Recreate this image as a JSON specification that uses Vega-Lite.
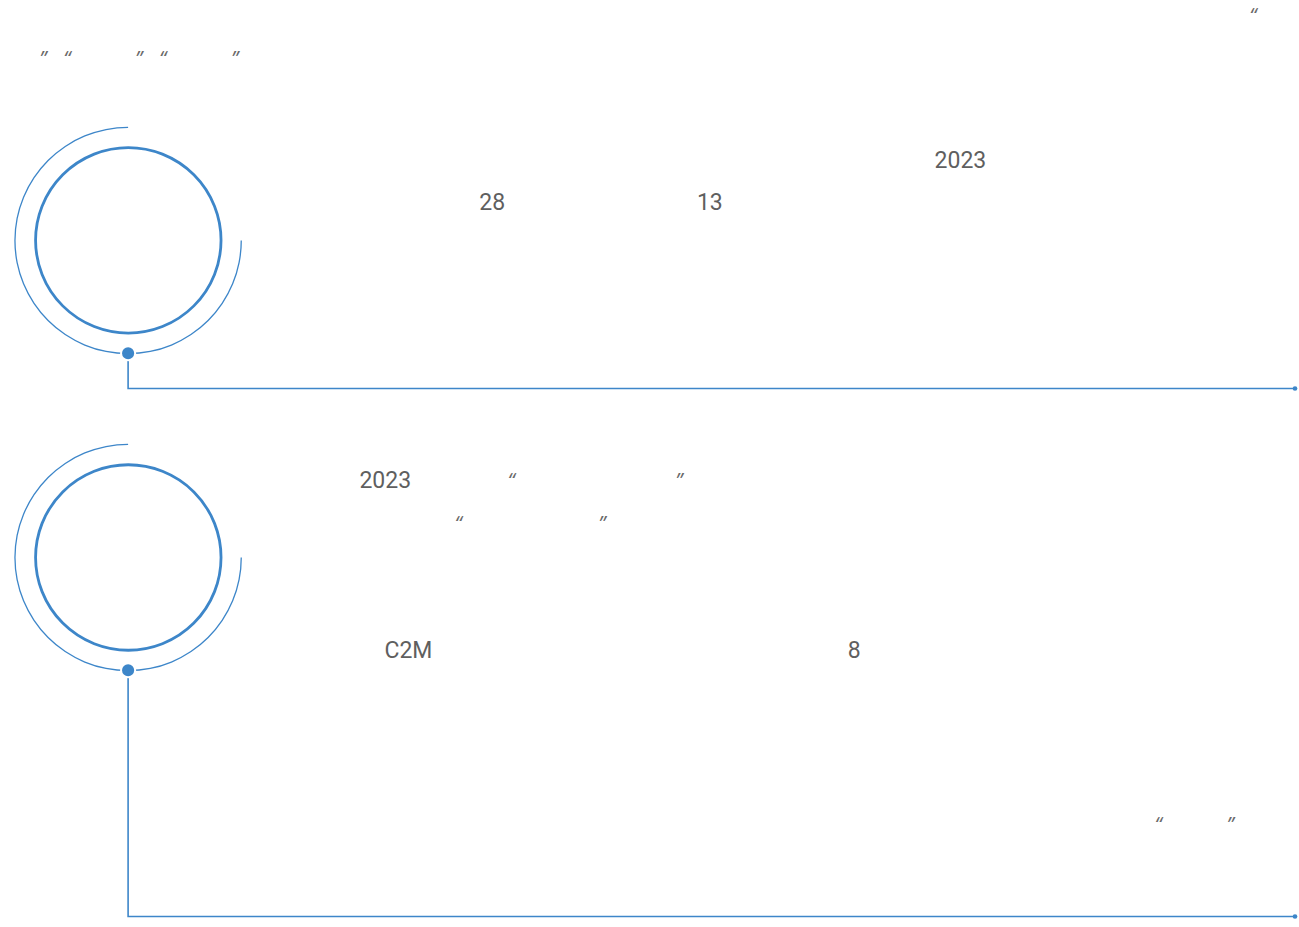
{
  "$schema": "https://vega.github.io/schema/vega-lite/v6.json",
  "autosize": {"type": "fit", "contains": "padding"},
  "width": 1299,
  "height": 927,
  "padding": 0,
  "background": "#ffffff",
  "config": {"view": {"stroke": null}},
  "datasets": {
    "arcs": [
      {"x": 128.3, "y": 240.5, "a0": 90, "a1": 360},
      {"x": 128.3, "y": 557.5, "a0": 90, "a1": 360}
    ],
    "rings": [
      {"x": 128.5, "y": 240.3},
      {"x": 128.5, "y": 557.5}
    ],
    "connectors": [
      {"g": 1, "o": 1, "x": 128.3, "y": 353},
      {"g": 1, "o": 2, "x": 128.3, "y": 388.5},
      {"g": 1, "o": 3, "x": 1297, "y": 388.5},
      {"g": 2, "o": 1, "x": 128.3, "y": 670},
      {"g": 2, "o": 2, "x": 128.3, "y": 916.5},
      {"g": 2, "o": 3, "x": 1297, "y": 916.5}
    ],
    "dots": [
      {"x": 128.3, "y": 353.3},
      {"x": 128.3, "y": 670.3}
    ],
    "ends": [
      {"x": 1297, "y": 388.5},
      {"x": 1297, "y": 916.5}
    ],
    "words": [
      {"x": 936, "y": 168, "t": "2023"},
      {"x": 480, "y": 210, "t": "28"},
      {"x": 698, "y": 210, "t": "13"},
      {"x": 360, "y": 488, "t": "2023"},
      {"x": 385, "y": 658, "t": "C2M"},
      {"x": 849, "y": 658, "t": "8"}
    ],
    "quotes": [
      {"x": 1255, "y": 22, "t": "“"},
      {"x": 43, "y": 65, "t": "”"},
      {"x": 67, "y": 65, "t": "“"},
      {"x": 139, "y": 65, "t": "”"},
      {"x": 163, "y": 65, "t": "“"},
      {"x": 235, "y": 65, "t": "”"},
      {"x": 512, "y": 487, "t": "“"},
      {"x": 680, "y": 487, "t": "”"},
      {"x": 459, "y": 530, "t": "“"},
      {"x": 603, "y": 530, "t": "”"},
      {"x": 1160, "y": 831, "t": "“"},
      {"x": 1232, "y": 831, "t": "”"}
    ]
  },
  "encoding": {
    "x": {"field": "x", "type": "quantitative", "axis": null, "scale": {"domain": [0, 1299], "nice": false, "zero": false}},
    "y": {"field": "y", "type": "quantitative", "axis": null, "scale": {"domain": [0, 927], "nice": false, "zero": false, "reverse": true}}
  },
  "layer": [
    {
      "data": {"name": "arcs"},
      "mark": {"type": "arc", "radius": 113.8, "radius2": 112.5, "color": "#3d86c9", "filled": true},
      "encoding": {
        "theta": {"field": "a0", "type": "quantitative", "stack": null, "scale": {"domain": [0, 360], "range": [0, 6.283185307179586]}},
        "theta2": {"field": "a1"}
      }
    },
    {
      "data": {"name": "rings"},
      "mark": {"type": "point", "shape": "circle", "filled": false, "size": 34400, "strokeWidth": 2.8, "color": "#3d86c9", "opacity": 1}
    },
    {
      "data": {"name": "connectors"},
      "mark": {"type": "line", "color": "#3d86c9", "strokeWidth": 1.6},
      "encoding": {
        "detail": {"field": "g", "type": "nominal"},
        "order": {"field": "o", "type": "quantitative"}
      }
    },
    {
      "data": {"name": "dots"},
      "mark": {"type": "point", "shape": "circle", "filled": true, "size": 200, "fill": "#3d86c9", "stroke": "#ffffff", "strokeWidth": 2, "opacity": 1}
    },
    {
      "data": {"name": "ends"},
      "mark": {"type": "point", "shape": "circle", "filled": true, "size": 22, "color": "#3d86c9", "opacity": 1}
    },
    {
      "data": {"name": "words"},
      "mark": {"type": "text", "align": "left", "baseline": "alphabetic", "font": "Roboto", "fontSize": 23, "color": "#5f5f5f"},
      "encoding": {"text": {"field": "t", "type": "nominal"}}
    },
    {
      "data": {"name": "quotes"},
      "mark": {"type": "text", "align": "center", "baseline": "alphabetic", "font": "Open Sans", "fontSize": 20, "fontStyle": "italic", "color": "#6a6a6a"},
      "encoding": {"text": {"field": "t", "type": "nominal"}}
    }
  ]
}
